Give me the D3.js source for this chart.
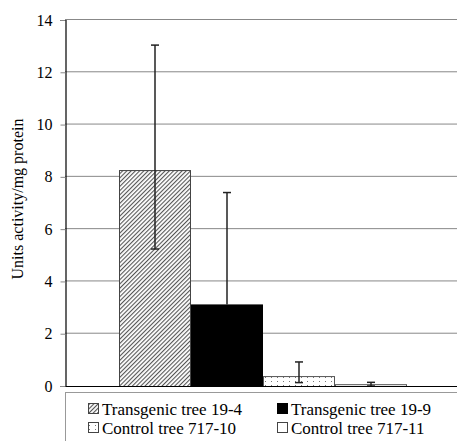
<!DOCTYPE html>
<html>
<head>
<meta charset="utf-8">
<script src="https://cdn.jsdelivr.net/npm/d3@7"></script>
<style>
  body { margin: 0; background: #fff; }
  svg text { font-family: "Liberation Serif", "Times New Roman", serif; fill: #000; }
</style>
</head>
<body>
<div id="chart"></div>
<script>
var width = 457,
    height = 441;

// data
var series = ["Transgenic tree 19-4", "Transgenic tree 19-9", "Control tree 717-10", "Control tree 717-11"];
var values = [8.26, 3.12, 0.38, 0.07];
var errLow = [5.24, 3.12, 0.13, 0.0];
var errHigh = [13.04, 7.4, 0.92, 0.14];
var yTicks = [0, 2, 4, 6, 8, 10, 12, 14];

var margin = {left: 65, top: 20, right: 0, bottom: 55};

var svg = d3.select("#chart")
  .append("svg")
  .attr("width", width)
  .attr("height", height);

var defs = svg.append("defs");

var hatch = defs.append("pattern")
  .attr("id", "hatch")
  .attr("patternUnits", "userSpaceOnUse")
  .attr("width", 3)
  .attr("height", 3)
  .attr("patternTransform", "rotate(45)");
hatch.append("rect").attr("width", 3).attr("height", 3).attr("fill", "#fff");
hatch.append("line")
  .attr("x1", 0.5).attr("y1", 0).attr("x2", 0.5).attr("y2", 3)
  .attr("stroke", "#555").attr("stroke-width", 1.2);

var dots = defs.append("pattern")
  .attr("id", "dots")
  .attr("patternUnits", "userSpaceOnUse")
  .attr("width", 6)
  .attr("height", 4);
dots.append("rect").attr("width", 6).attr("height", 4).attr("fill", "#fff");
dots.append("rect").attr("x", 1).attr("y", 1).attr("width", 1).attr("height", 1).attr("fill", "#777");

var fills = ["url(#hatch)", "#000", "url(#dots)", "#fff"];
var strokes = ["#444", "#000", "#555", "#555"];

var x0 = margin.left, x1 = width - margin.right;
var y = d3.scaleLinear().domain([0, 14]).range([386, 20]);

var x = d3.scaleBand()
  .domain(series)
  .range([119, 407])
  .padding(0);

// gridlines
svg.append("g")
  .selectAll("line")
  .data(yTicks.filter(function(d) { return d > 0; }))
  .enter().append("line")
  .attr("x1", x0).attr("x2", x1)
  .attr("y1", function(d) { return y(d) - 0.5; })
  .attr("y2", function(d) { return y(d) - 0.5; })
  .attr("stroke", "#888")
  .attr("stroke-width", 1);

// bars
svg.append("g")
  .selectAll("rect")
  .data(values)
  .enter().append("rect")
  .attr("x", function(d, i) { return x(series[i]) + 0.5; })
  .attr("y", function(d) { return y(d) + 0.5; })
  .attr("width", x.bandwidth() - 1)
  .attr("height", function(d) { return y(0) - y(d); })
  .attr("fill", function(d, i) { return fills[i]; })
  .attr("stroke", function(d, i) { return strokes[i]; })
  .attr("stroke-width", 1);

// error bars
var eb = svg.append("g").attr("stroke", "#222").attr("stroke-width", 1.5);
values.forEach(function(v, i) {
  var cx = x(series[i]) + x.bandwidth() / 2;
  eb.append("line").attr("x1", cx).attr("x2", cx)
    .attr("y1", y(errLow[i])).attr("y2", y(errHigh[i]));
  eb.append("line").attr("x1", cx - 4).attr("x2", cx + 4)
    .attr("y1", y(errHigh[i])).attr("y2", y(errHigh[i]));
  if (errLow[i] < v) {
    eb.append("line").attr("x1", cx - 4).attr("x2", cx + 4)
      .attr("y1", y(errLow[i])).attr("y2", y(errLow[i]));
  }
});

// x baseline
svg.append("line")
  .attr("x1", x0).attr("x2", x1)
  .attr("y1", y(0) + 0.5).attr("y2", y(0) + 0.5)
  .attr("stroke", "#000").attr("stroke-width", 1.2);

// y axis
var yAxis = svg.append("g")
  .attr("transform", "translate(" + (x0 + 0.5) + ",0)")
  .call(d3.axisLeft(y).tickValues(yTicks).tickSize(5).tickPadding(8));
yAxis.attr("font-family", null).attr("font-size", null);
yAxis.select(".domain").attr("stroke", "#000").attr("stroke-width", 1.2);
yAxis.selectAll(".tick line").attr("stroke", "#888");
yAxis.selectAll("text")
  .style("font-size", "16px");

svg.append("text")
  .attr("transform", "translate(23,199) rotate(-90)")
  .attr("text-anchor", "middle")
  .style("font-size", "16px")
  .text("Units activity/mg protein");

// legend
svg.append("rect")
  .attr("x", 65.5).attr("y", 392.5)
  .attr("width", 400).attr("height", 60)
  .attr("fill", "#fff")
  .attr("stroke", "#999");

var legend = svg.selectAll(".legend")
  .data(series)
  .enter().append("g")
  .attr("class", "legend")
  .attr("transform", function(d, i) {
    return "translate(" + (i % 2 === 0 ? 88 : 277) + "," + (i < 2 ? 409 : 428) + ")";
  });

legend.append("rect")
  .attr("x", 0.5).attr("y", -5.5)
  .attr("width", 10).attr("height", 10)
  .attr("fill", function(d, i) { return fills[i]; })
  .attr("stroke", function(d, i) { return i === 1 ? "#000" : "#444"; });

legend.append("text")
  .attr("x", 14)
  .attr("y", 0)
  .attr("dy", "0.35em")
  .style("font-size", "17px")
  .text(function(d) { return d; });
</script>
</body>
</html>
